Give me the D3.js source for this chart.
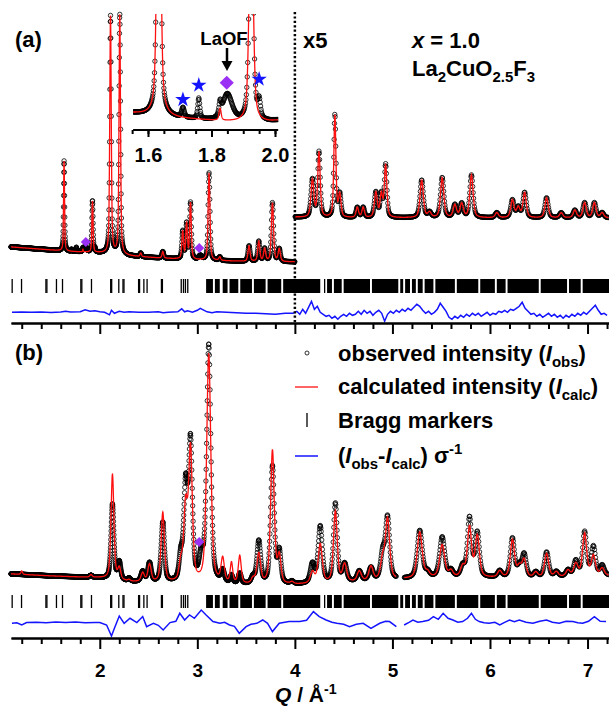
<!DOCTYPE html>
<html>
<head>
<meta charset="utf-8">
<script src="https://cdn.jsdelivr.net/npm/d3@7"></script>
<style>
  body { margin: 0; background: #fff; }
  text { font-family: "Liberation Sans", Arial, sans-serif; font-weight: bold; fill: #000; }
</style>
</head>
<body>
<svg id="chart" width="609" height="707"></svg>
<script>
// ---- data ----
const qDomain = [1.09, 7.22];
const scaleQ = 4.0;      // above this Q panel (a) is drawn x5
const scaleFactor = 5;

// background [Q, I]
const bgA = [[1.1,104],[1.3,98],[1.5,92],[1.7,86],[2.0,80],[2.3,68],[2.6,60],[3.0,52],[3.5,46],[4.0,44],[7.22,44]];
const bgB = [[1.1,64],[1.5,56],[2.0,48],[2.3,32],[2.6,28],[3.0,24],[3.5,20],[4.0,20],[4.5,28],[5.0,40],[5.5,48],[6.5,48],[7.22,56]];

// peaks [Q, obs height, calc height, fwhm]
const peaksA = [
  [1.634,360,360,0.012],[1.71,8,0,0.010],[1.76,17,0,0.008],[1.827,10,10,0.008],[1.85,22,0,0.035],
  [1.925,206,206,0.014],[1.95,14,0,0.010],[2.11,950,950,0.018],[2.205,960,960,0.018],
  [2.42,14,14,0.018],[2.646,26,26,0.02],[2.85,110,110,0.02],[2.89,140,140,0.02],[2.93,225,225,0.02],
  [3.03,16,0,0.04],[3.12,350,350,0.022],[3.23,14,14,0.022],[3.53,62,62,0.025],[3.63,80,80,0.025],
  [3.69,50,50,0.025],[3.77,235,235,0.026],[3.84,50,50,0.026],
  [4.18,30,30,0.035],[4.247,52,52,0.03],[4.41,82,82,0.025],[4.46,18,18,0.03],[4.64,8,8,0.03],
  [4.70,8,8,0.03],[4.83,20,20,0.035],[4.886,18,18,0.03],[4.93,42,42,0.03],[5.30,30,30,0.04],
  [5.38,4,4,0.04],[5.51,32,32,0.04],[5.64,10,10,0.04],[5.71,11,11,0.04],[5.81,34,34,0.04],
  [6.07,4,4,0.04],[6.23,14,14,0.04],[6.29,8,8,0.04],[6.355,20,20,0.04],[6.58,16,16,0.04],
  [6.73,4,4,0.04],[6.87,6,6,0.04],[6.97,12,12,0.04],[7.07,12,12,0.04],[7.15,4,4,0.04]
];
const peaksB = [
  [1.2,0,14,0.02],[1.91,8,10,0.03],[2.13,300,420,0.035],[2.20,70,45,0.035],[2.30,12,6,0.03],
  [2.44,40,35,0.04],[2.51,75,70,0.04],[2.646,238,278,0.04],[2.83,90,70,0.04],[2.88,370,290,0.045],
  [2.93,550,525,0.045],[3.04,90,0,0.05],[3.117,950,915,0.05],[3.26,45,95,0.04],[3.35,30,80,0.03],
  [3.435,40,110,0.035],[3.57,25,20,0.04],[3.63,170,120,0.045],[3.77,470,535,0.045],[3.84,125,105,0.04],
  [3.97,10,8,0.04],[4.18,75,45,0.05],[4.26,225,155,0.05],[4.415,315,285,0.045],[4.51,70,70,0.05],
  [4.66,40,40,0.05],[4.78,50,56,0.05],[4.90,100,80,0.05],[4.95,245,240,0.05],[5.28,190,185,0.06],
  [5.36,20,20,0.05],[5.51,160,130,0.06],[5.60,25,25,0.05],[5.72,40,40,0.05],[5.79,235,200,0.05],
  [5.87,175,165,0.05],[6.10,25,25,0.05],[6.23,155,150,0.05],[6.30,40,40,0.05],[6.35,90,70,0.05],
  [6.47,20,20,0.05],[6.58,100,95,0.05],[6.68,20,20,0.05],[6.80,25,25,0.05],[6.88,60,50,0.05],
  [6.97,175,170,0.05],[7.06,115,80,0.05],[7.15,40,30,0.05]
];
const gapB = [5.04, 5.12];   // no data collected here in (b)

// difference curves [Q, (Iobs-Icalc)/sigma]
const diffA = [
  [1.10,0],[1.20,0.3],[1.30,0],[1.40,0.3],[1.50,-0.2],[1.60,0.2],[1.65,1],[1.70,0.3],[1.80,0.5],[1.85,2.5],
  [1.90,1],[1.95,1.5],[2.00,0.5],[2.05,0],[2.10,-2.5],[2.12,2],[2.15,-1],[2.20,1],[2.25,0],[2.30,0.5],
  [2.40,0],[2.50,0],[2.60,0.5],[2.65,-0.5],[2.70,0],[2.80,0.5],[2.84,3.5],[2.87,0.5],[2.90,1.5],[2.95,0],
  [3.00,2],[3.03,4],[3.07,2],[3.10,0.5],[3.15,-0.5],[3.20,0.5],[3.30,0],[3.40,-0.5],[3.50,-1],[3.60,-1],
  [3.70,-1.5],[3.80,-2],[3.90,-1],[3.98,-1],
  [4.02,1],[4.05,-2],[4.08,3],[4.11,-1],[4.14,5],[4.17,11],[4.20,3],[4.23,6],[4.26,0],[4.29,-2],
  [4.32,-4],[4.35,-3],[4.38,-6],[4.41,-4],[4.44,-7],[4.47,-4],[4.50,-2],[4.53,-4],[4.56,-1],[4.59,-3],
  [4.62,-2],[4.65,1],[4.68,-2],[4.71,2],[4.74,-1],[4.77,1],[4.80,-3],[4.83,0],[4.86,2],[4.89,-1],
  [4.92,-9],[4.95,-2],[4.98,1],[5.01,-1],[5.04,2],[5.07,0],[5.10,3],[5.13,1],[5.16,4],[5.19,2],
  [5.22,5],[5.25,8],[5.28,6],[5.31,2],[5.34,-1],[5.37,1],[5.40,-2],[5.43,0],[5.46,3],[5.49,9],
  [5.52,5],[5.55,1],[5.58,-5],[5.61,-7],[5.64,-4],[5.67,-6],[5.70,-3],[5.73,-5],[5.76,-2],[5.79,-4],
  [5.82,-1],[5.85,-3],[5.88,-1],[5.91,-4],[5.94,-2],[5.97,0],[6.00,-3],[6.03,-1],[6.06,-2],[6.09,1],
  [6.12,0],[6.15,2],[6.18,0],[6.21,3],[6.24,2],[6.27,4],[6.30,6],[6.33,10],[6.36,4],[6.39,1],
  [6.42,-2],[6.45,-1],[6.48,-4],[6.51,-2],[6.54,-5],[6.57,-3],[6.60,-1],[6.63,-4],[6.66,-2],[6.69,-5],
  [6.72,-3],[6.75,-6],[6.78,-3],[6.81,-5],[6.84,-2],[6.87,-4],[6.90,-1],[6.93,-3],[6.96,0],[6.99,-2],
  [7.02,1],[7.05,4],[7.08,7],[7.11,2],[7.14,-2],[7.17,-1],[7.20,-3]
];
const diffB = [
  [1.10,0],[1.15,0.5],[1.20,-1.7],[1.25,0.7],[1.35,1],[1.45,0.5],[1.55,1.2],[1.65,0.8],[1.75,1.2],[1.85,0.5],
  [1.95,0.8],[2.00,0.7],[2.07,-1.7],[2.12,-12.7],[2.15,-5],[2.20,7.3],[2.25,0],[2.31,5],[2.38,0.7],[2.44,6.7],
  [2.48,-3.3],[2.55,0],[2.60,-2],[2.65,-6.7],[2.72,0.7],[2.78,2],[2.82,10],[2.87,3.3],[2.92,8.3],[2.97,5],
  [3.04,13.3],[3.09,8.3],[3.16,1.7],[3.23,0],[3.28,1],[3.33,-1.7],[3.38,-3],[3.43,-10],[3.50,-3.3],[3.55,-1],
  [3.61,0],[3.67,3.3],[3.72,0],[3.77,-8.3],[3.84,0],[3.94,1.7],[4.05,1.7],[4.12,3],[4.19,11.7],[4.25,6.7],
  [4.32,3.3],[4.38,1],[4.43,0],[4.50,-1],[4.56,-3.3],[4.63,-1],[4.70,0],[4.78,-5],[4.87,0],[4.93,2],
  [4.97,1.7],[5.04,-3.3],
  [5.12,-1.7],[5.17,1],[5.21,3.3],[5.26,1],[5.31,1.7],[5.37,3],[5.42,6.7],[5.47,4],[5.52,10],[5.57,5],
  [5.62,3.3],[5.67,1],[5.72,1.7],[5.77,5],[5.81,10],[5.85,4],[5.89,1.7],[5.94,0.5],[5.99,0],[6.05,1],
  [6.10,-1.7],[6.15,1],[6.20,3.3],[6.25,1.5],[6.30,3.3],[6.37,1],[6.44,0],[6.51,2],[6.58,3.3],[6.64,1],
  [6.71,0],[6.78,2],[6.85,1.7],[6.90,0.5],[6.95,0],[7.01,2],[7.07,6.7],[7.13,2],[7.19,1.7]
];

// Bragg reflection positions (isolated lines) and dense stretches [from, to]
const braggLines = [1.102,1.198,1.448,1.458,1.556,1.618,1.806,1.816,1.915,2.112,2.122,2.195,2.238,2.248,
  2.398,2.408,2.452,2.485,2.632,2.642,2.835,2.858,2.878,2.902,4.305];
const braggBands = [[3.09,3.16],[3.18,3.23],[3.26,3.31],[3.33,3.42],[3.44,3.56],[3.58,3.70],[3.72,3.86],
  [3.88,4.26],[4.33,4.38],[4.40,4.48],[4.50,4.77],[4.79,5.06],[5.08,5.11],[5.13,5.18],[5.20,5.24],
  [5.26,5.31],[5.33,5.42],[5.44,5.64],[5.66,5.88],[5.90,6.05],[6.07,6.16],[6.18,6.50],[6.52,6.79],
  [6.81,6.93],[6.95,7.22]];

// markers [Q, I]
const laofA = [[1.857,124],[3.02,100]];
const laofB = [[3.02,192]];
const insetRange = [1.553, 2.01];
const insetStars = [[1.71,102],[1.76,114],[1.95,119]];
const insetLaof = [[1.848,116]];
const insetTicks = [1.6, 1.8, 2.0];

// ---- drawing ----
const svg = d3.select("#chart");
const red = "#ff1010", blue = "#1414ff", purple = "#9b30f5";

const x = d3.scaleLinear().domain(qDomain).range([11, 609]);
const yA = d3.scaleLinear().domain([0, 1000]).range([273, 23]);
const yB = d3.scaleLinear().domain([0, 1000]).range([590, 340]);
const dA = d3.scaleLinear().domain([-10, 10]).range([322.3, 302.3]);
const dB = d3.scaleLinear().domain([-10, 10]).range([633.3, 613.3]);
const xIn = d3.scaleLinear().domain([1.6, 2.0]).range([148, 275]);
const yIn = d3.scaleLinear().domain([60, 150]).range([150, 42]);

function pv(dq, w) {
  const t = (2 * dq / w) ** 2;
  return 0.5 / (1 + t) + 0.5 * Math.exp(-Math.LN2 * t);
}
function profile(bg, peaks, col) {
  const bgf = d3.scaleLinear().domain(bg.map(d => d[0])).range(bg.map(d => d[1]));
  return q => {
    let v = bgf(q);
    for (const p of peaks) v += p[col] * pv(q - p[0], p[3]);
    return v;
  };
}

// TOF-like sampling, constant dQ/Q
const qs = [];
for (let q = qDomain[0]; q <= qDomain[1]; q *= 1.00075) qs.push(q);

const obsA = profile(bgA, peaksA, 1), calcA = profile(bgA, peaksA, 2);
const obsB = profile(bgB, peaksB, 1), calcB = profile(bgB, peaksB, 2);
const plotA = (f, q) => (q > scaleQ ? scaleFactor : 1) * f(q);

function seriesA(f) {
  const left = qs.filter(q => q < scaleQ).map(q => ({ q, v: plotA(f, q) }));
  const right = qs.filter(q => q >= scaleQ).map(q => ({ q, v: plotA(f, q) }));
  return left.concat([null], right);
}
function seriesB(f) {
  return qs.map(q => (q > gapB[0] && q < gapB[1]) ? null : { q, v: f(q) });
}

function drawPanel(obs, calc, y) {
  const g = svg.append("g");
  g.selectAll("circle").data(obs.filter(d => d)).join("circle")
    .attr("cx", d => x(d.q)).attr("cy", d => y(d.v)).attr("r", 2.2)
    .attr("fill", "none").attr("stroke", "#000").attr("stroke-width", 0.8);
  g.append("path").datum(calc)
    .attr("d", d3.line().defined(d => d).x(d => x(d.q)).y(d => y(d.v)))
    .attr("fill", "none").attr("stroke", red).attr("stroke-width", 1.3);
}
drawPanel(seriesA(obsA), seriesA(calcA), yA);
drawPanel(seriesB(obsB), seriesB(calcB), yB);

// difference curves
function drawDiff(data, dy, gap) {
  const pts = [];
  data.forEach((d, i) => {
    if (gap && i > 0 && data[i - 1][0] <= gap[0] && d[0] >= gap[1]) pts.push(null);
    pts.push(d);
  });
  svg.append("path").datum(pts)
    .attr("d", d3.line().defined(d => d).x(d => x(d[0])).y(d => dy(d[1])))
    .attr("fill", "none").attr("stroke", blue).attr("stroke-width", 1.5);
}
drawDiff(diffA, dA, null);
drawDiff(diffB, dB, gapB);

// Bragg markers
function drawBragg(y0, y1) {
  const g = svg.append("g");
  g.selectAll("line").data(braggLines).join("line")
    .attr("x1", d => x(d)).attr("x2", d => x(d)).attr("y1", y0).attr("y2", y1)
    .attr("stroke", "#000").attr("stroke-width", 1.3);
  g.selectAll("rect").data(braggBands).join("rect")
    .attr("x", d => x(d[0])).attr("width", d => x(d[1]) - x(d[0]))
    .attr("y", y0).attr("height", y1 - y0).attr("fill", "#000");
}
drawBragg(279, 293);
drawBragg(595, 608);

// axes
function drawAxis(y0, labels) {
  const minor = d3.range(1.2, 7.21, 0.2).filter(t => Math.abs(t - Math.round(t)) > 0.01);
  const gMin = svg.append("g").attr("transform", `translate(0,${y0})`)
    .call(d3.axisBottom(x).tickValues(minor).tickSize(6).tickSizeOuter(0).tickFormat(""));
  const gMaj = svg.append("g").attr("transform", `translate(0,${y0})`)
    .call(d3.axisBottom(x).tickValues([2, 3, 4, 5, 6, 7]).tickSize(11).tickSizeOuter(0)
      .tickPadding(15).tickFormat(labels ? d3.format("d") : ""));
  [gMin, gMaj].forEach(g => {
    g.select(".domain").attr("stroke-width", 2.2);
    g.selectAll(".tick line").attr("stroke-width", 2);
  });
  gMaj.selectAll("text").attr("font-size", 19).style("font-family", '"Liberation Sans", Arial, sans-serif')
    .style("font-weight", "bold");
}
drawAxis(323, false);
drawAxis(638, true);

// x5 divider
svg.append("line").attr("x1", x(scaleQ)).attr("x2", x(scaleQ)).attr("y1", 12).attr("y2", 323)
  .attr("stroke", "#000").attr("stroke-width", 2.5).attr("stroke-dasharray", "2.2,2.2");

// LaOF markers in main panels
const diamond = d3.symbol().type(d3.symbolSquare);
svg.selectAll(".laofA").data(laofA).join("path")
  .attr("transform", d => `translate(${x(d[0])},${yA(d[1])}) rotate(45)`)
  .attr("d", diamond.size(50)).attr("fill", purple);
svg.selectAll(".laofB").data(laofB).join("path")
  .attr("transform", d => `translate(${x(d[0])},${yB(d[1])}) rotate(45)`)
  .attr("d", diamond.size(50)).attr("fill", purple);

// inset
const inset = svg.append("g");
inset.append("clipPath").attr("id", "inclip").append("rect")
  .attr("x", xIn(insetRange[0])).attr("y", 14).attr("width", xIn(insetRange[1]) - xIn(insetRange[0])).attr("height", 117);
const qIn = qs.filter(q => q >= insetRange[0] && q <= insetRange[1]);
const inData = inset.append("g").attr("clip-path", "url(#inclip)");
inData.selectAll("circle").data(qIn).join("circle")
  .attr("cx", q => xIn(q)).attr("cy", q => yIn(obsA(q))).attr("r", 2.2)
  .attr("fill", "none").attr("stroke", "#000").attr("stroke-width", 0.8);
const qInFine = d3.range(insetRange[0], insetRange[1], 0.0004);
inData.append("path").datum(qInFine)
  .attr("d", d3.line().x(q => xIn(q)).y(q => yIn(calcA(q))))
  .attr("fill", "none").attr("stroke", red).attr("stroke-width", 1.3);
const gIn = inset.append("g").attr("transform", "translate(0,130)");
gIn.call(d3.axisBottom(xIn).tickValues(d3.range(1.55, 2.011, 0.05)).tickSize(4).tickSizeOuter(0).tickFormat(""));
const gIn2 = inset.append("g").attr("transform", "translate(0,130)");
gIn2.call(d3.axisBottom(xIn).tickValues(insetTicks).tickSize(7).tickSizeOuter(0).tickPadding(11).tickFormat(d3.format(".1f")));
gIn.select(".domain").attr("d", `M${xIn(insetRange[0])},0H${xIn(insetRange[1])}`).attr("stroke-width", 2.2);
gIn2.select(".domain").remove();
[gIn, gIn2].forEach(g => g.selectAll(".tick line").attr("stroke-width", 2));
gIn2.selectAll("text").attr("font-size", 20).style("font-family", '"Liberation Sans", Arial, sans-serif').style("font-weight", "bold");

inset.selectAll(".star").data(insetStars).join("path")
  .attr("transform", d => `translate(${xIn(d[0])},${yIn(d[1])})`)
  .attr("d", d3.symbol().type(d3.symbolStar).size(75)).attr("fill", blue);
inset.selectAll(".laofIn").data(insetLaof).join("path")
  .attr("transform", d => `translate(${xIn(d[0])},${yIn(d[1])}) rotate(45)`)
  .attr("d", diamond.size(100)).attr("fill", purple);
svg.append("text").attr("x", 224).attr("y", 45).attr("text-anchor", "middle").attr("font-size", 18.5).text("LaOF");
svg.append("line").attr("x1", 227).attr("x2", 227).attr("y1", 48).attr("y2", 62).attr("stroke", "#000").attr("stroke-width", 2.5);
svg.append("path").attr("d", "M221.5,61 L232.5,61 L227,71 Z").attr("fill", "#000");

// rich text helper: parts are [text, kind]
function rich(xp, yp, size, parts) {
  const t = svg.append("text").attr("x", xp).attr("y", yp).attr("font-size", size);
  let shift = 0;
  parts.forEach(([s, k]) => {
    const sp = t.append("tspan").text(s);
    let target = 0;
    if (k === "sub") { sp.attr("font-size", size * 0.68); target = size * 0.25; }
    else if (k === "sup") { sp.attr("font-size", size * 0.68); target = -size * 0.4; }
    if (k === "i") sp.attr("font-style", "italic");
    if (target !== shift) { sp.attr("dy", target - shift); shift = target; }
  });
  return t;
}

rich(15, 47, 22, [["(a)"]]);
rich(15, 360, 22, [["(b)"]]);
rich(303, 48, 22, [["x5"]]);
rich(412, 48, 22, [["x", "i"], [" = 1.0"]]);
rich(412, 76, 22, [["La"], ["2", "sub"], ["CuO"], ["2.5", "sub"], ["F"], ["3", "sub"]]);

// legend
const lgX = 307, txX = 338;
svg.append("circle").attr("cx", lgX).attr("cy", 353).attr("r", 2).attr("fill", "none").attr("stroke", "#000").attr("stroke-width", 0.8);
svg.append("line").attr("x1", 295).attr("x2", 318).attr("y1", 387).attr("y2", 387).attr("stroke", red).attr("stroke-width", 1.3);
svg.append("line").attr("x1", lgX).attr("x2", lgX).attr("y1", 413).attr("y2", 427).attr("stroke", "#000").attr("stroke-width", 1.3);
svg.append("line").attr("x1", 295).attr("x2", 318).attr("y1", 456).attr("y2", 456).attr("stroke", blue).attr("stroke-width", 1.5);
rich(txX, 361, 22, [["observed intensity ("], ["I", "i"], ["obs", "sub"], [")"]]);
rich(txX, 394, 22, [["calculated intensity ("], ["I", "i"], ["calc", "sub"], [")"]]);
rich(txX, 428, 22, [["Bragg markers"]]);
rich(txX, 463, 22, [["("], ["I", "i"], ["obs", "sub"], ["-"], ["I", "i"], ["calc", "sub"], [") σ"], ["-1", "sup"]]);

// axis title
rich(275, 702, 21, [["Q", "i"], [" / Å"], ["-1", "sup"]]);
</script>
</body>
</html>
